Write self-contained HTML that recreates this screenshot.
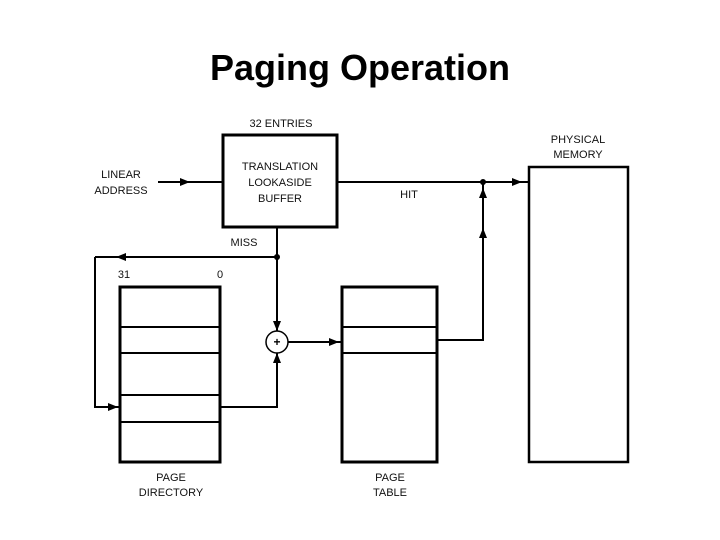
<!DOCTYPE html>
<html><head><style>
body{margin:0;background:#fff}
svg{display:block}
.t{font-family:"Liberation Sans",sans-serif;font-size:11px;fill:#111}
</style></head><body>
<svg width="720" height="540" viewBox="0 0 720 540">
<text x="360" y="80" text-anchor="middle" font-family="Liberation Sans, sans-serif" font-weight="bold" font-size="36" fill="#000">Paging Operation</text>
<defs><marker id="a" markerWidth="8" markerHeight="8" refX="4" refY="4" orient="auto" markerUnits="userSpaceOnUse"><path d="M0,0L8,4L0,8z" fill="#000"/></marker></defs>
<g stroke="#000" fill="none" stroke-width="2">
<rect x="223" y="135" width="114" height="92" stroke-width="3"/>
<rect x="120" y="287" width="100" height="175" stroke-width="3"/>
<line x1="120" y1="327" x2="220" y2="327"/><line x1="120" y1="353" x2="220" y2="353"/>
<line x1="120" y1="395" x2="220" y2="395"/><line x1="120" y1="422" x2="220" y2="422"/>
<rect x="342" y="287" width="95" height="175" stroke-width="3"/>
<line x1="342" y1="327" x2="437" y2="327"/><line x1="342" y1="353" x2="437" y2="353"/>
<rect x="529" y="167" width="99" height="295" stroke-width="2.5"/>
<line x1="158" y1="182" x2="223" y2="182"/>
<line x1="337" y1="182" x2="529" y2="182"/>
<line x1="277" y1="227" x2="277" y2="331"/>
<line x1="277" y1="257" x2="95" y2="257"/>
<polyline points="95,257 95,407 120,407"/>
<polyline points="220,407 277,407 277,353"/>
<circle cx="277" cy="342" r="11" stroke-width="1.5"/>
<line x1="288" y1="342" x2="342" y2="342"/>
<polyline points="437,340 483,340 483,182"/>
</g>
<g fill="#000">
<path d="M180,178L190,182L180,186z"/>
<path d="M512,178L522,182L512,186z"/>
<path d="M126,253L116,257L126,261z"/>
<path d="M108,403L118,407L108,411z"/>
<path d="M273,321L277,331L281,321z"/>
<path d="M273,363L277,353L281,363z"/>
<path d="M329,338L339,342L329,346z"/>
<path d="M479,198L483,188L487,198z"/>
<path d="M479,238L483,228L487,238z"/>
<circle cx="277" cy="257" r="3"/><circle cx="483" cy="182" r="3"/>
<text x="277" y="346" text-anchor="middle" font-family="Liberation Sans" font-size="12" font-weight="bold">+</text>
</g>
<g class="t">
<text x="281" y="127" text-anchor="middle">32 ENTRIES</text>
<text x="280" y="170" text-anchor="middle">TRANSLATION</text>
<text x="280" y="186" text-anchor="middle">LOOKASIDE</text>
<text x="280" y="202" text-anchor="middle">BUFFER</text>
<text x="121" y="178" text-anchor="middle">LINEAR</text>
<text x="121" y="194" text-anchor="middle">ADDRESS</text>
<text x="409" y="198" text-anchor="middle">HIT</text>
<text x="244" y="246" text-anchor="middle">MISS</text>
<text x="124" y="278" text-anchor="middle">31</text>
<text x="220" y="278" text-anchor="middle">0</text>
<text x="578" y="143" text-anchor="middle">PHYSICAL</text>
<text x="578" y="158" text-anchor="middle">MEMORY</text>
<text x="171" y="481" text-anchor="middle">PAGE</text>
<text x="171" y="496" text-anchor="middle">DIRECTORY</text>
<text x="390" y="481" text-anchor="middle">PAGE</text>
<text x="390" y="496" text-anchor="middle">TABLE</text>
</g>
</svg>
</body></html>
